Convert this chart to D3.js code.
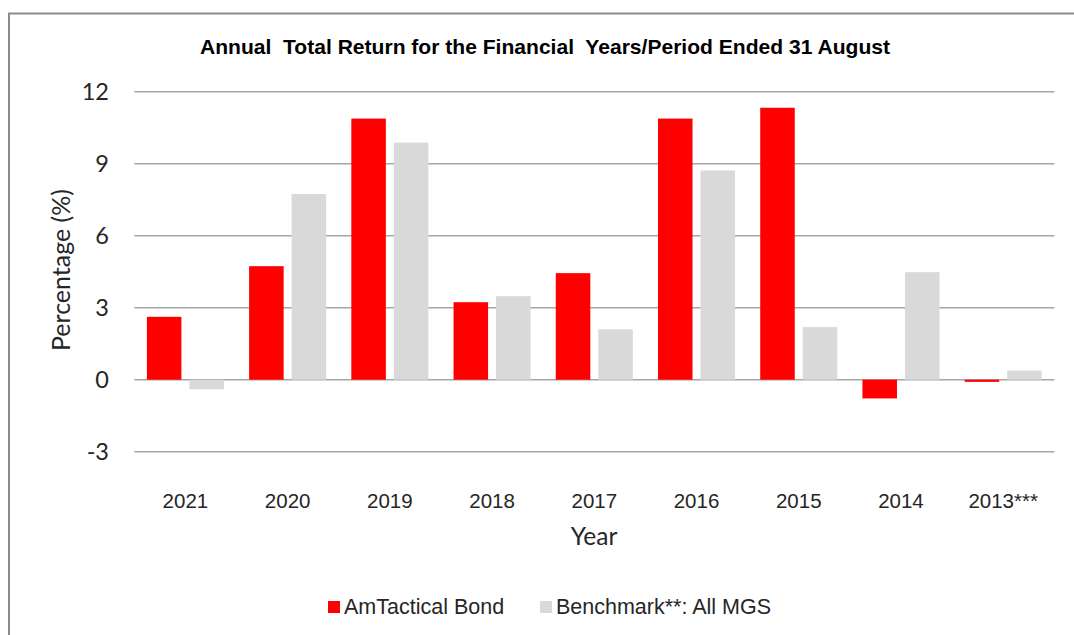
<!DOCTYPE html>
<meta charset="utf-8">
<script src="https://d3js.org/d3.v7.min.js"></script>
<style>
  body { margin: 0; background: #fff; }
  text { fill: #262626; }
</style>
<body>
<div id="chart"></div>
<script>
// data
var years = ["2021", "2020", "2019", "2018", "2017", "2016", "2015", "2014", "2013***"];
var fundReturns = [2.62, 4.73, 10.88, 3.23, 4.44, 10.88, 11.33, -0.78, -0.09];
var benchReturns = [-0.40, 7.74, 9.88, 3.48, 2.10, 8.72, 2.19, 4.48, 0.38];
var seriesNames = ["AmTactical Bond", "Benchmark**: All MGS"];
var seriesColors = ["#ff0000", "#d9d9d9"];
var yTicks = [-3, 0, 3, 6, 9, 12];

var W = 1074, H = 635;
var svg = d3.select("#chart").append("svg")
    .attr("width", W)
    .attr("height", H);

// outer frame (only top and left edges visible)
svg.append("path")
  .attr("d", "M9,635 V13.5 H1074")
  .attr("fill", "none")
  .attr("stroke", "#8c8c8c")
  .attr("stroke-width", 2);

svg.append("text")
  .attr("x", 545).attr("y", 54)
  .attr("text-anchor", "middle")
  .attr("font-family", "Liberation Sans, Arial, sans-serif")
  .attr("font-weight", "bold")
  .attr("font-size", 20.5)
  .attr("textLength", 690)
  .attr("lengthAdjust", "spacingAndGlyphs")
  .style("white-space", "pre")
  .style("fill", "#000")
  .text("Annual  Total Return for the Financial  Years/Period Ended 31 August");

var plotLeft = 134.3, plotRight = 1054.3;

var y = d3.scaleLinear()
  .domain([-3, 12])
  .range([451.7, 91.7]);

var x0 = d3.scaleBand()
  .domain(years)
  .range([plotLeft, plotRight]);

var x1 = d3.scaleBand()
  .domain([0, 1])
  .range([0, x0.bandwidth()])
  .paddingInner(0.188)
  .paddingOuter(0.296);

// gridlines + y labels
svg.append("g").selectAll("line")
  .data(yTicks)
  .enter().append("line")
    .attr("x1", plotLeft).attr("x2", plotRight)
    .attr("y1", function(d) { return y(d); })
    .attr("y2", function(d) { return y(d); })
    .attr("stroke", "#a6a6a6")
    .attr("stroke-width", 1.5);

svg.append("g").selectAll("text")
  .data(yTicks)
  .enter().append("text")
    .attr("x", 109)
    .attr("y", function(d) { return y(d) + 8; })
    .attr("text-anchor", "end")
    .attr("font-family", "Lato, sans-serif")
    .attr("font-size", 23.5)
    .text(function(d) { return d; });

// bars
var groups = svg.append("g").selectAll("g")
  .data(years)
  .enter().append("g")
    .attr("transform", function(d) { return "translate(" + x0(d) + ",0)"; });

groups.selectAll("rect")
  .data(function(d, i) { return [fundReturns[i], benchReturns[i]]; })
  .enter().append("rect")
    .attr("x", function(d, j) { return x1(j); })
    .attr("width", x1.bandwidth())
    .attr("y", function(d) { return y(Math.max(0, d)); })
    .attr("height", function(d) { return Math.abs(y(d) - y(0)); })
    .attr("fill", function(d, j) { return seriesColors[j]; });

// category labels
svg.append("g").selectAll("text")
  .data(years)
  .enter().append("text")
    .attr("x", function(d) { return x0(d) + x0.bandwidth() / 2; })
    .attr("y", 508)
    .attr("text-anchor", "middle")
    .attr("font-family", "Liberation Sans, Arial, sans-serif")
    .attr("font-size", 20.5)
    .text(function(d) { return d; });

// axis titles
svg.append("text")
  .attr("x", 594).attr("y", 545)
  .attr("text-anchor", "middle")
  .attr("font-family", "Lato, sans-serif")
  .attr("font-size", 24.5)
  .text("Year");

svg.append("text")
  .attr("transform", "translate(70,270) rotate(-90)")
  .attr("text-anchor", "middle")
  .attr("font-family", "Lato, sans-serif")
  .attr("font-size", 25)
  .text("Percentage (%)");

// legend
var legendX = [328, 540];
var legend = svg.append("g").selectAll("g")
  .data(seriesNames)
  .enter().append("g")
    .attr("transform", function(d, i) { return "translate(" + legendX[i] + ",601)"; });

legend.append("rect")
  .attr("width", 12).attr("height", 12)
  .attr("fill", function(d, i) { return seriesColors[i]; });

legend.append("text")
  .attr("x", 16).attr("y", 12.5)
  .attr("font-family", "Liberation Sans, Arial, sans-serif")
  .attr("font-size", 21.5)
  .text(function(d) { return d; });
</script>
</body>
